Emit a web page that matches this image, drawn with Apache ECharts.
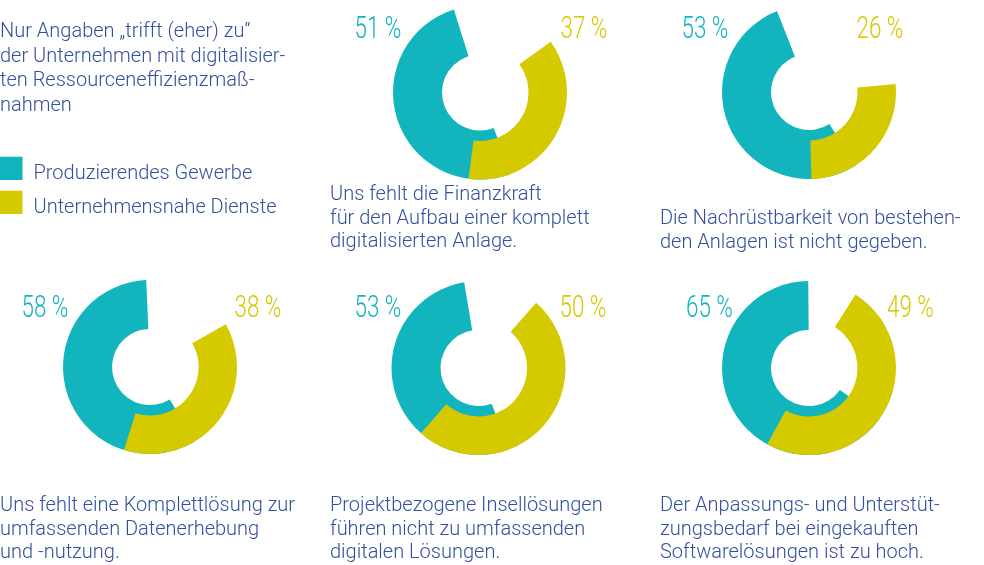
<!DOCTYPE html>
<html>
<head>
<meta charset="utf-8">
<script src="https://cdn.jsdelivr.net/npm/echarts@6/dist/echarts.min.js"></script>
<style>
html,body{margin:0;padding:0;background:#fff;}
#chart{width:984px;height:565px;}
</style>
</head>
<body>
<div id="chart"></div>
<script>
// ---- data ----
const seriesNames = ['Produzierendes Gewerbe', 'Unternehmensnahe Dienste'];
const categories = [
  'Uns fehlt die Finanzkraft\nfür den Aufbau einer komplett\ndigitalisierten Anlage.',
  'Die Nachrüstbarkeit von bestehen-\nden Anlagen ist nicht gegeben.',
  'Uns fehlt eine Komplettlösung zur\numfassenden Datenerhebung\nund -nutzung.',
  'Projektbezogene Insellösungen\nführen nicht zu umfassenden\ndigitalen Lösungen.',
  'Der Anpassungs- und Unterstüt-\nzungsbedarf bei eingekauften\nSoftwarelösungen ist zu hoch.'
];
const produzierend = [51, 53, 58, 53, 65];
const dienste = [37, 26, 38, 50, 49];
const noteText = 'Nur Angaben \u201Etrifft (eher) zu\u201C\nder Unternehmen mit digitalisier-\nten Ressourceneffizienzmaß-\nnahmen';

// ---- layout (positions / styles) ----
const TEAL = '#12b4bd';
const YELLOW = '#d5c900';
const TEXT = '#33509e';
const centers = [[480, 92.5], [809, 92], [150, 367], [478.5, 368], [809, 368]];
const tealEnd = [-17.5, -21.6, -2.5, -9.5, -0.5];      // compass deg of teal's upper end
const yellowStart = [54.4, 84.8, 60.6, 41.5, 32.3];   // compass deg of yellow's upper end
const pctTealX = [354.5, 681.5, 21.5, 354.5, 686];
const pctYellowX = [560.5, 856.5, 234.5, 559.5, 887];
const pctMidY = [30, 30.3, 309, 308.8, 309];
const labelPos = [[330, 183], [660, 207.5], [0, 494], [330, 494], [660, 494]];

const series = [];
const graphic = [];
const bodyFont = '300 20px Roboto, "Noto Sans", sans-serif';

produzierend.forEach((v, i) => {
  const base = {
    type: 'pie', center: centers[i], silent: true, animation: false,
    label: { show: false }, labelLine: { show: false },
    emphasis: { disabled: true }, avoidLabelOverlap: false
  };
  series.push(Object.assign({}, base, {
    name: 'p' + i, radius: [38, 87],
    startAngle: 90 - tealEnd[i], clockwise: false,
    data: [
      { value: v, name: seriesNames[0], itemStyle: { color: TEAL } },
      { value: 100 - v, name: '_rest', itemStyle: { color: 'rgba(0,0,0,0)' } }
    ]
  }));
  series.push(Object.assign({}, base, {
    name: 'd' + i, radius: [48.5, 87],
    startAngle: 90 - yellowStart[i], clockwise: true,
    data: [
      { value: dienste[i], name: seriesNames[1], itemStyle: { color: YELLOW } },
      { value: 100 - dienste[i], name: '_rest', itemStyle: { color: 'rgba(0,0,0,0)' } }
    ]
  }));
  const pctStyle = (txt, col) => ({
    text: txt, x: 0, y: 0, fill: col,
    font: '300 32px Roboto, sans-serif', textAlign: 'left', textVerticalAlign: 'middle'
  });
  graphic.push({ type: 'text', x: pctTealX[i], y: pctMidY[i], scaleX: 0.7, silent: true,
    style: pctStyle(v + ' %', TEAL) });
  graphic.push({ type: 'text', x: pctYellowX[i], y: pctMidY[i], scaleX: 0.7, silent: true,
    style: pctStyle(dienste[i] + ' %', YELLOW) });
  graphic.push({ type: 'text', x: labelPos[i][0], y: labelPos[i][1], silent: true,
    style: { text: categories[i], fill: TEXT, font: bodyFont, lineHeight: 23.7,
      textAlign: 'left', textVerticalAlign: 'top' } });
});

graphic.push({ type: 'text', x: 0, y: 20, silent: true,
  style: { text: noteText, fill: TEXT, font: bodyFont, lineHeight: 24.5,
    textAlign: 'left', textVerticalAlign: 'top' } });

const legendBase = {
  left: 0, orient: 'vertical', padding: 0, icon: 'rect',
  itemWidth: 22.5, itemHeight: 23.3, selectedMode: false,
  formatter: '{t|{name}}',
  textStyle: { color: TEXT, fontSize: 20, fontWeight: 300, fontFamily: 'Roboto',
    rich: { t: { color: TEXT, fontSize: 20, fontWeight: 300, fontFamily: 'Roboto', padding: [12, 0, 0, 6] } } }
};

const chart = echarts.init(document.getElementById('chart'), null, { renderer: 'canvas' });
chart.setOption({
  animation: false,
  legend: [
    Object.assign({}, legendBase, { top: 156.7, data: [{ name: seriesNames[0], itemStyle: { color: TEAL } }] }),
    Object.assign({}, legendBase, { top: 190.7, data: [{ name: seriesNames[1], itemStyle: { color: YELLOW } }] })
  ],
  series: series,
  graphic: graphic
});
</script>
</body>
</html>
